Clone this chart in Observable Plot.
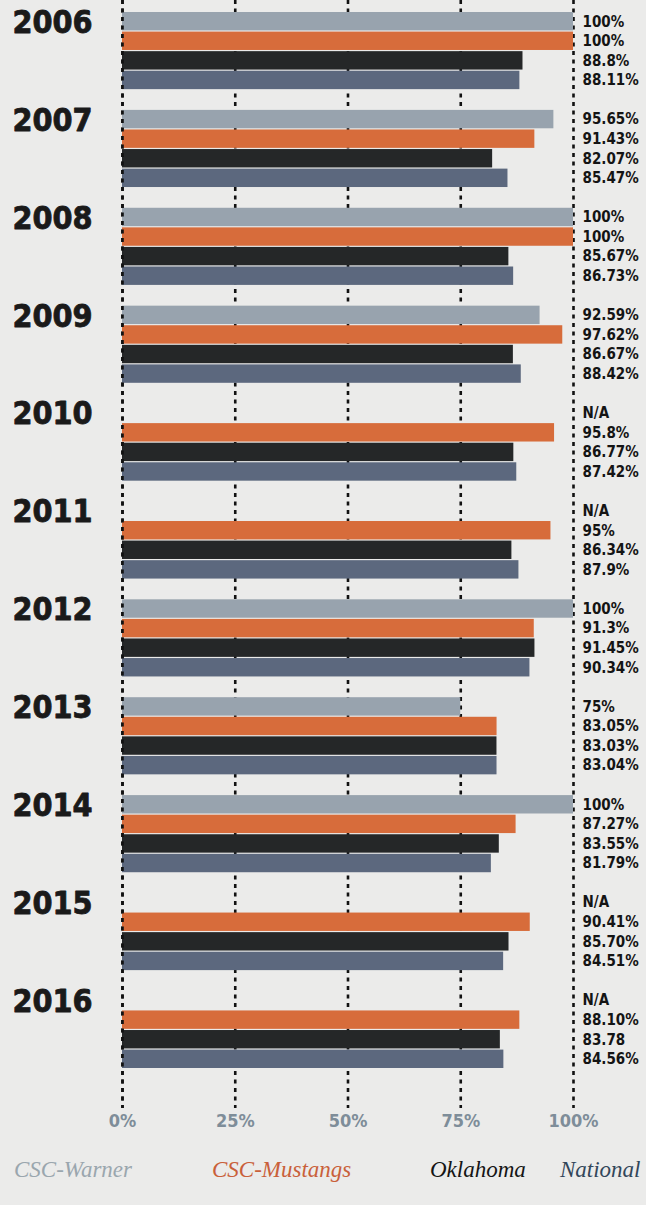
<!DOCTYPE html>
<html>
<head>
<meta charset="utf-8">
<script src="https://cdn.jsdelivr.net/npm/d3@7"></script>
<script src="https://cdn.jsdelivr.net/npm/@observablehq/plot@0.6"></script>
<style>
  html, body { margin: 0; padding: 0; background: #ebebea; width: 646px; height: 1205px; overflow: hidden; }
  #chart svg { display: block; font-stretch: condensed; }
  #legend { position: relative; height: 60px; }
  #legend span { position: absolute; top: 12px; font-family: "Liberation Serif", serif; font-style: italic; font-size: 23px; white-space: nowrap; }
</style>
</head>
<body>
<div id="chart"></div>
<div id="legend"></div>
<script>
// ---- data ----
const years = [2006, 2007, 2008, 2009, 2010, 2011, 2012, 2013, 2014, 2015, 2016];
const seriesNames = ["CSC-Warner", "CSC-Mustangs", "Oklahoma", "National"];
const warner   = [100, 95.65, 100, 92.59, null, null, 100, 75, 100, null, null];
const mustangs = [100, 91.43, 100, 97.62, 95.8, 95, 91.3, 83.05, 87.27, 90.41, 88.10];
const oklahoma = [88.8, 82.07, 85.67, 86.67, 86.77, 86.34, 91.45, 83.03, 83.55, 85.70, 83.78];
const national = [88.11, 85.47, 86.73, 88.42, 87.42, 87.9, 90.34, 83.04, 81.79, 84.51, 84.56];
const warnerLabels   = ["100%", "95.65%", "100%", "92.59%", "N/A", "N/A", "100%", "75%", "100%", "N/A", "N/A"];
const mustangsLabels = ["100%", "91.43%", "100%", "97.62%", "95.8%", "95%", "91.3%", "83.05%", "87.27%", "90.41%", "88.10%"];
const oklahomaLabels = ["88.8%", "82.07%", "85.67%", "86.67%", "86.77%", "86.34%", "91.45%", "83.03%", "83.55%", "85.70%", "83.78"];
const nationalLabels = ["88.11%", "85.47%", "86.73%", "88.42%", "87.42%", "87.9%", "90.34%", "83.04%", "81.79%", "84.51%", "84.56%"];
const xTicks = [0, 25, 50, 75, 100];
const xTickLabels = ["0%", "25%", "50%", "75%", "100%"];

// ---- styles ----
const barColors = ["#98a3ae", "#d76c3b", "#252728", "#5c687e"];
const legendColors = ["#9aa6ae", "#c9603a", "#151515", "#32465a"];
const legendX = [14, 212, 430, 560];
const condensed = "'DejaVu Sans Condensed', 'DejaVu Sans', sans-serif";

const seriesValues = [warner, mustangs, oklahoma, national];
const seriesLabels = [warnerLabels, mustangsLabels, oklahomaLabels, nationalLabels];

const rows = years.flatMap((yr, i) => seriesNames.map((s, j) => ({
  year: yr, key: `${yr}|${j}`, series: s, value: seriesValues[j][i], label: seriesLabels[j][i]
})));

const yDomain = years.flatMap((yr, i) => {
  const slots = [0, 1, 2, 3].map(j => `${yr}|${j}`);
  return i < years.length - 1 ? slots.concat(`${yr}|gap`) : slots;
});

const chart = Plot.plot({
  width: 646,
  height: 1145,
  marginLeft: 122,
  marginRight: 73,
  marginTop: 0,
  marginBottom: 37,
  style: { background: "transparent", overflow: "visible" },
  x: { domain: [0, 100] },
  y: { type: "band", domain: yDomain, range: [12, 1068], paddingInner: 0.06, paddingOuter: 0, axis: null },
  color: { domain: seriesNames, range: barColors },
  marks: [
    Plot.ruleX(xTicks, { stroke: "#111", strokeWidth: 2.6, strokeDasharray: "4,4.5" }),
    Plot.barX(rows.filter(d => d.value != null), { x: "value", y: "key", fill: "series" }),
    Plot.ruleX([0], { stroke: "#111", strokeWidth: 2.6, strokeDasharray: "4,4.5" }),
    Plot.text(rows, {
      y: "key", text: "label", frameAnchor: "right", dx: 9, textAnchor: "start",
      fontSize: 15, fontWeight: "bold", fontFamily: condensed, fill: "#141414"
    }),
    Plot.text(years, {
      y: d => `${d}|0`, text: d => String(d), frameAnchor: "left", dx: -110, dy: 1, textAnchor: "start",
      fontSize: 32, fontWeight: "bold", fontFamily: condensed, fill: "#1a1a1a", letterSpacing: "-1px",
      stroke: "#1a1a1a", strokeWidth: 0.8
    }),
    Plot.axisX({
      ticks: xTicks, tickFormat: (d) => xTickLabels[xTicks.indexOf(d)],
      tickSize: 0, tickPadding: 6, fontSize: 18, fontWeight: "bold",
      fontFamily: "'DejaVu Sans', sans-serif", color: "#7e8d99", label: null
    })
  ]
});
document.getElementById("chart").appendChild(chart);

const legend = document.getElementById("legend");
seriesNames.forEach((name, i) => {
  const s = document.createElement("span");
  s.textContent = name;
  s.style.color = legendColors[i];
  s.style.left = legendX[i] + "px";
  legend.appendChild(s);
});
</script>
</body>
</html>
